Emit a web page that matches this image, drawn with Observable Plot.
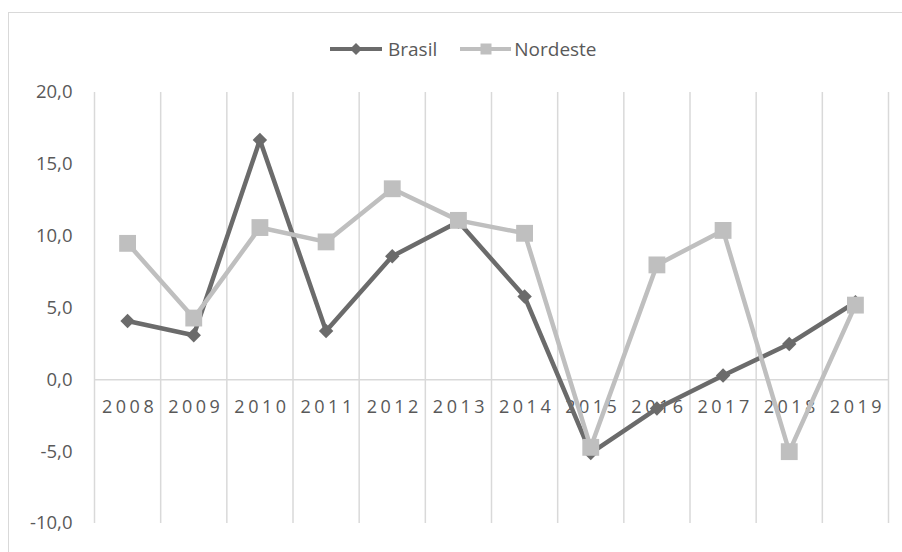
<!DOCTYPE html>
<html>
<head>
<meta charset="utf-8">
<script src="https://cdn.jsdelivr.net/npm/d3@7"></script>
<script src="https://cdn.jsdelivr.net/npm/@observablehq/plot@0.6"></script>
<style>
  html, body { margin: 0; padding: 0; background: #fff; }
  body { width: 902px; height: 552px; position: relative; overflow: hidden; font-family: "Open Sans", sans-serif; }
  #frame { position: absolute; left: 8px; top: 12px; width: 1000px; height: 700px; border: 1.5px solid #d9d9d9; box-sizing: border-box; }
  #legend { position: absolute; left: 330px; top: 36px; height: 26px; display: flex; align-items: center; font-size: 19px; color: #595959; white-space: nowrap; }
  #legend .item { display: flex; align-items: center; }
  #legend svg { display: block; }
  #chart { position: absolute; left: 0; top: 70px; }
  #chart g[aria-label="text"] text { letter-spacing: 3.5px; }
</style>
</head>
<body>
<div id="frame"></div>
<div id="legend"></div>
<div id="chart"></div>
<script>
const years = [2008, 2009, 2010, 2011, 2012, 2013, 2014, 2015, 2016, 2017, 2018, 2019];
const brasil = [4.1, 3.1, 16.7, 3.4, 8.6, 11.0, 5.8, -5.1, -2.0, 0.3, 2.5, 5.4];
const nordeste = [9.5, 4.3, 10.6, 9.6, 13.3, 11.1, 10.2, -4.7, 8.0, 10.4, -5.0, 5.2];
const yTicks = [-10, -5, 0, 5, 10, 15, 20];
const seriesNames = ["Brasil", "Nordeste"];
const colors = ["#6b6b6b", "#bfbfbf"];

const rows = years.map((year, i) => ({year, brasil: brasil[i], nordeste: nordeste[i]}));
const edges = years.map(y => y - 0.5).concat([years[years.length - 1] + 0.5]);
const fmt = d => d.toFixed(1).replace(".", ",");

// Legend
const legend = document.getElementById("legend");
seriesNames.forEach((name, i) => {
  const item = document.createElement("div");
  item.className = "item";
  item.style.marginRight = i === 0 ? "23px" : "0";
  const marker = i === 0
    ? `<polygon points="26,4 32,10 26,16 20,10" fill="${colors[i]}"/>`
    : `<rect x="20.5" y="4.5" width="11" height="11" fill="${colors[i]}"/>`;
  item.innerHTML = `<svg width="${i === 0 ? 52 : 51}" height="20"><line x1="0" x2="52" y1="10" y2="10" stroke="${colors[i]}" stroke-width="4"/>${marker}</svg><span style="margin-left:${i === 0 ? 6 : 3}px">${name}</span>`;
  legend.appendChild(item);
});

const chart = Plot.plot({
  width: 902,
  height: 482,
  marginLeft: 94,
  marginRight: 14,
  marginTop: 22,
  marginBottom: 29,
  style: {fontFamily: "Open Sans, sans-serif", fontSize: "18.5px", color: "#595959", background: "transparent", overflow: "visible"},
  x: {domain: [edges[0], edges[edges.length - 1]], axis: null},
  y: {domain: [-10, 20], ticks: yTicks, tickFormat: fmt, tickSize: 0, tickPadding: 22, label: null},
  marks: [
    Plot.ruleX(edges, {x: d => d, stroke: "#d9d9d9", strokeWidth: 1.5}),
    Plot.ruleY([0], {stroke: "#d9d9d9", strokeWidth: 1.5}),
    Plot.text(years, {x: d => d, y: () => 0, text: d => String(d), dy: 27, dx: 2, fill: "#595959", fontSize: 18}),
    Plot.line(rows, {x: "year", y: "brasil", stroke: colors[0], strokeWidth: 4.5}),
    Plot.dot(rows, {x: "year", y: "brasil", symbol: "diamond2", r: 6.5, fill: colors[0], stroke: "none"}),
    Plot.line(rows, {x: "year", y: "nordeste", stroke: colors[1], strokeWidth: 4.5}),
    Plot.dot(rows, {x: "year", y: "nordeste", symbol: "square", r: 9.5, fill: colors[1], stroke: "none"})
  ]
});
document.getElementById("chart").appendChild(chart);
</script>
</body>
</html>
